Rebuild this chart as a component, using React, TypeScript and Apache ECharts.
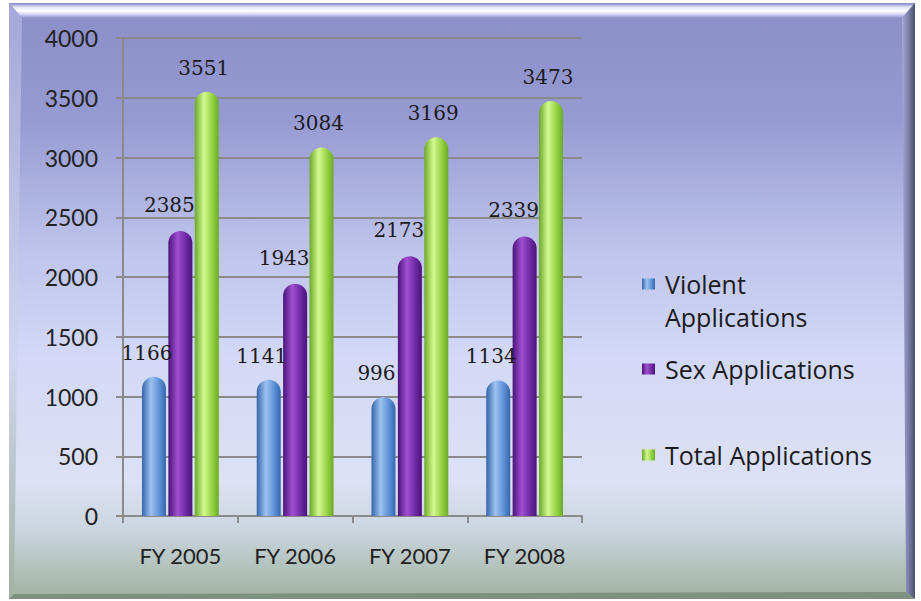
import React, { useEffect, useRef } from "react";
import * as echarts from "echarts";

const categories = ["FY 2005", "FY 2006", "FY 2007", "FY 2008"];
const violent = [1166, 1141, 996, 1134];
const sex = [2385, 1943, 2173, 2339];
const total = [3551, 3084, 3169, 3473];
const yTicks = { min: 0, max: 4000, interval: 500 };

const cyl = (dark: string, light: string, mid: string) =>
  new echarts.graphic.LinearGradient(0, 0, 1, 0, [
    { offset: 0, color: dark },
    { offset: 0.38, color: light },
    { offset: 0.75, color: mid },
    { offset: 1, color: dark },
  ]);

export default function App() {
  const ref = useRef<HTMLDivElement>(null);
  useEffect(() => {
    if (!ref.current) return;
    const chart = echarts.init(ref.current, null, { renderer: "svg" });
    const labelBase = {
      show: true,
      position: "top" as const,
      distance: 14,
      fontFamily: "DejaVu Serif",
      fontSize: 20,
      color: "#1a1a1a",
    };
    const legendText = {
      fontFamily: "Open Sans",
      fontSize: 25,
      color: "#1a1a1a",
      lineHeight: 30,
      padding: [0, 0, 0, 5],
    };
    const legendCommon = {
      orient: "vertical" as const,
      left: 642,
      padding: 0,
      itemWidth: 13,
      itemHeight: 11,
      icon: "rect",
      itemGap: 10,
      textStyle: legendText,
    };
    chart.setOption({
      animation: false,
      graphic: [
        {
          type: "rect",
          z: -10,
          silent: true,
          shape: { x: 9, y: 3, width: 906, height: 596 },
          style: {
            fill: new echarts.graphic.LinearGradient(0, 0, 0, 1, [
              { offset: 0, color: "#8a8dc6" },
              { offset: 0.2, color: "#979bd3" },
              { offset: 0.42, color: "#bfc5ec" },
              { offset: 0.6, color: "#d3d9f6" },
              { offset: 0.8, color: "#dce1f6" },
              { offset: 0.88, color: "#ccd6e0" },
              { offset: 1, color: "#9fb3a0" },
            ]),
          },
        },
        {
          type: "polygon",
          z: -9,
          silent: true,
          shape: { points: [[9, 3], [915, 3], [902, 18], [22, 18]] },
          style: {
            fill: new echarts.graphic.LinearGradient(0, 0, 0, 1, [
              { offset: 0, color: "#7f82c2" },
              { offset: 0.3, color: "#e6e8fb" },
              { offset: 0.55, color: "#ffffff" },
              { offset: 0.8, color: "#c4c8ee" },
              { offset: 1, color: "#8e92cb" },
            ]),
          },
        },
        {
          type: "polygon",
          z: -9,
          silent: true,
          shape: { points: [[9, 3], [22, 18], [14, 594], [9, 599]] },
          style: {
            fill: new echarts.graphic.LinearGradient(0, 0, 0, 1, [
              { offset: 0, color: "#a4a7d8" },
              { offset: 0.6, color: "#d0d6ef" },
              { offset: 1, color: "#a2b2a2" },
            ]),
          },
        },
        {
          type: "polygon",
          z: -9,
          silent: true,
          shape: { points: [[915, 3], [902, 18], [906, 592], [915, 599]] },
          style: {
            fill: new echarts.graphic.LinearGradient(0, 0, 1, 0, [
              { offset: 0, color: "#a6aad4" },
              { offset: 0.5, color: "#7a7ea8" },
              { offset: 1, color: "#4c5070" },
            ]),
          },
        },
        {
          type: "polygon",
          z: -9,
          silent: true,
          shape: { points: [[9, 599], [14, 594], [906, 592], [915, 599]] },
          style: { fill: "#7f9080" },
        },
        {
          type: "text",
          left: 665,
          top: 304,
          style: { text: "Applications", font: "25px 'Open Sans'", fill: "#1a1a1a" },
        },
      ],
      grid: { left: 123, right: 339, top: 38, bottom: 85 },
      legend: [
        { ...legendCommon, top: 269, data: ["Violent Applications"], formatter: () => "Violent" },
        { ...legendCommon, top: 354, data: ["Sex Applications"] },
        { ...legendCommon, top: 440, data: ["Total Applications"] },
      ],
      xAxis: {
        type: "category",
        data: categories,
        axisLine: { show: true, lineStyle: { color: "#8a8a8a", width: 2 } },
        axisTick: { show: true, length: 7, lineStyle: { color: "#8a8a8a", width: 2 } },
        axisLabel: { fontFamily: "Lato", fontSize: 22, color: "#222", margin: 28 },
      },
      yAxis: {
        type: "value",
        min: yTicks.min,
        max: yTicks.max,
        interval: yTicks.interval,
        axisLine: { show: true, lineStyle: { color: "#8a8a8a", width: 2 } },
        axisTick: { show: true, length: 7, lineStyle: { color: "#8a8a8a", width: 2 } },
        splitLine: { lineStyle: { color: "#8a8a8a", width: 2 } },
        axisLabel: {
          fontFamily: "Lato",
          fontSize: 23,
          color: "#222",
          margin: 25,
          formatter: (v: number) => String(v),
        },
      },
      series: [
        {
          name: "Violent Applications",
          type: "bar",
          data: violent,
          barWidth: 24,
          barGap: "10%",
          itemStyle: {
            color: cyl("#3566aa", "#9cc2f0", "#5a8ed4"),
            borderRadius: [12, 12, 0, 0],
          },
          label: { ...labelBase, offset: [-7, 0] },
        },
        {
          name: "Sex Applications",
          type: "bar",
          data: sex,
          barWidth: 24,
          barGap: "10%",
          itemStyle: {
            color: cyl("#4a137a", "#a04fd0", "#6a28a0"),
            borderRadius: [12, 12, 0, 0],
          },
          label: { ...labelBase, offset: [-11, -2] },
        },
        {
          name: "Total Applications",
          type: "bar",
          data: total,
          barWidth: 24,
          barGap: "10%",
          itemStyle: {
            color: cyl("#6aaa28", "#d4f890", "#92d040"),
            borderRadius: [12, 12, 0, 0],
          },
          label: { ...labelBase, offset: [-3, 0] },
        },
      ],
    });
    return () => chart.dispose();
  }, []);
  return (
    <div
      ref={ref}
      style={{ position: "fixed", left: 0, top: 0, width: 921, height: 601, background: "#ffffff" }}
    />
  );
}
